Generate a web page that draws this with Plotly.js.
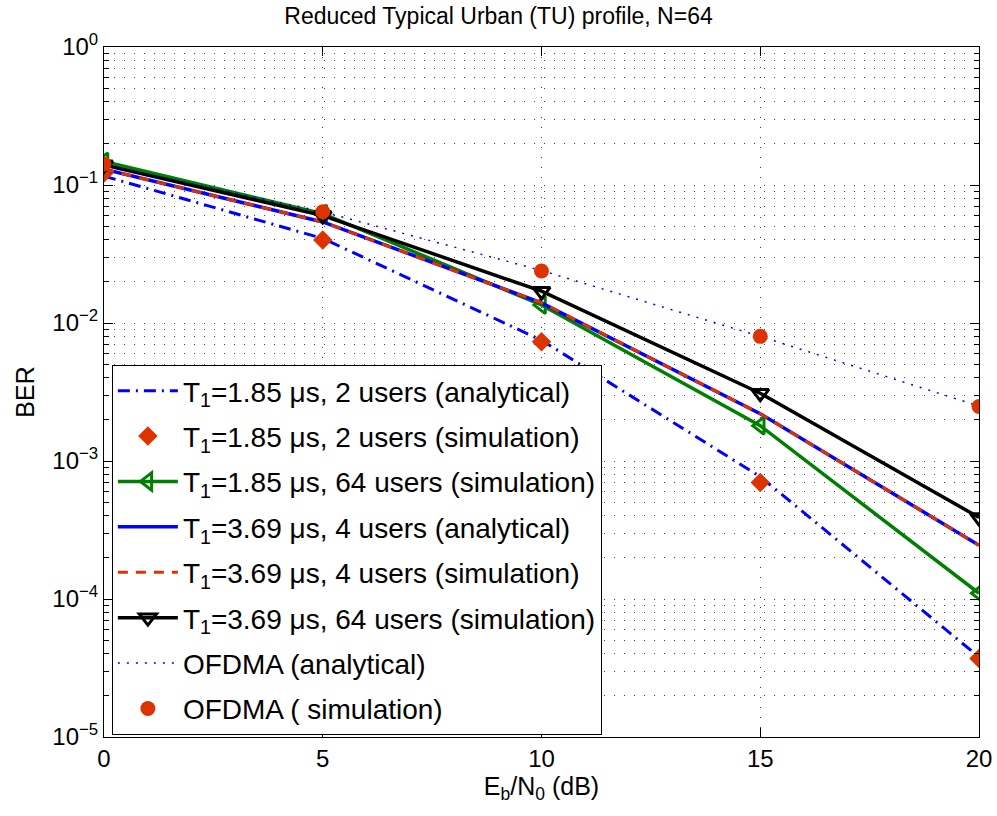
<!DOCTYPE html>
<html>
<head>
<meta charset="utf-8">
<script src="https://cdn.plot.ly/plotly-3.0.1.min.js"></script>
<style>
  html, body { margin: 0; padding: 0; background: #fff; }
  #chart { width: 997px; height: 816px; }
</style>
</head>
<body>
<div id="chart"></div>
<script>
// Eb/N0 sweep (dB)
const ebn0 = [0, 5, 10, 15, 20];

// BER curves
const t185_2u_analytical = [0.116, 0.041, 0.0075, 0.00077, 3.8e-5];
const t185_2u_simulation = [0.122, 0.040, 0.0073, 0.00070, 3.7e-5];
const t185_64u_simulation = [0.148, 0.062, 0.0135, 0.0018, 1.1e-4];
const t369_4u_analytical = [0.13, 0.054, 0.014, 0.0022, 2.45e-4];
const t369_4u_simulation = [0.13, 0.054, 0.014, 0.0022, 2.45e-4];
const t369_64u_simulation = [0.14, 0.060, 0.017, 0.0031, 3.9e-4];
const ofdma_analytical = [0.14, 0.064, 0.024, 0.0080, 0.0025];
const ofdma_simulation = [0.142, 0.064, 0.0238, 0.0080, 0.00248];

// Axis ticks
const xTicks = [0, 5, 10, 15, 20];
const yTickVals = [1, 1e-1, 1e-2, 1e-3, 1e-4, 1e-5];
const yTickText = ['10<sup>0</sup>', '10<sup>−1</sup>', '10<sup>−2</sup>', '10<sup>−3</sup>', '10<sup>−4</sup>', '10<sup>−5</sup>'];
const legendNames = [
  'T<sub>1</sub>=1.85 μs, 2 users (analytical)',
  'T<sub>1</sub>=1.85 μs, 2 users (simulation)',
  'T<sub>1</sub>=1.85 μs, 64 users (simulation)',
  'T<sub>1</sub>=3.69 μs, 4 users (analytical)',
  'T<sub>1</sub>=3.69 μs, 4 users (simulation)',
  'T<sub>1</sub>=3.69 μs, 64 users (simulation)',
  'OFDMA (analytical)',
  'OFDMA ( simulation)'
];

// minor grid positions: 2..9 within every decade
const yMinor = [];
for (let e = -5; e < 0; e++) {
  for (let m = 2; m <= 9; m++) yMinor.push(m * Math.pow(10, e));
}

const RED = '#dd3300';
const BLUE = '#0000ff';
const GREEN = '#008000';

const traces = [
  { x: ebn0, y: t185_2u_analytical, name: legendNames[0], mode: 'lines',
    line: { color: BLUE, width: 3, dash: '12px,6px,2px,6px' } },
  { x: ebn0, y: t185_2u_simulation, name: legendNames[1], mode: 'markers',
    marker: { symbol: 'diamond', color: RED, size: 15 } },
  { x: ebn0, y: t185_64u_simulation, name: legendNames[2], mode: 'lines+markers',
    line: { color: GREEN, width: 3.5 },
    marker: { symbol: 'triangle-left-open', color: GREEN, size: 15, line: { width: 3, color: GREEN } } },
  { x: ebn0, y: t369_4u_analytical, name: legendNames[3], mode: 'lines',
    line: { color: BLUE, width: 3.5 } },
  { x: ebn0, y: t369_4u_simulation, name: legendNames[4], mode: 'lines',
    line: { color: RED, width: 3, dash: '10px,8px' } },
  { x: ebn0, y: t369_64u_simulation, name: legendNames[5], mode: 'lines+markers',
    line: { color: '#000', width: 3.5 },
    marker: { symbol: 'triangle-down-open', color: '#000', size: 15, line: { width: 3, color: '#000' } } },
  { x: ebn0, y: ofdma_analytical, name: legendNames[6], mode: 'lines',
    line: { color: BLUE, width: 1.5, dash: '2px,7px' } },
  { x: ebn0, y: ofdma_simulation, name: legendNames[7], mode: 'markers',
    marker: { symbol: 'circle', color: RED, size: 15 } }
];
traces.forEach((t, i) => { t.type = 'scatter'; t.legendgroup = 'g' + i; });

const gridDash = '1px,9px';
const gridColor = '#444';
const layout = {
  width: 997, height: 816,
  margin: { l: 104, r: 18, t: 47, b: 79, pad: 0 },
  paper_bgcolor: '#fff', plot_bgcolor: '#fff',
  font: { family: 'Liberation Sans, Arial, sans-serif', color: '#000' },
  title: { text: 'Reduced Typical Urban (TU) profile, N=64', font: { size: 23, color: '#000' },
           x: 0.5, xref: 'container', y: 0.98, yref: 'container', yanchor: 'middle' },
  xaxis: {
    range: [0, 20], tickmode: 'array', tickvals: xTicks,
    ticks: 'inside', ticklen: 9, tickcolor: '#000', tickwidth: 1,
    showline: true, linecolor: '#000', linewidth: 1, mirror: 'ticks',
    showgrid: true, gridcolor: gridColor, gridwidth: 1, griddash: gridDash,
    zeroline: false, tickfont: { size: 24 },
    title: { text: 'E<sub>b</sub>/N<sub>0</sub> (dB)', font: { size: 25 }, standoff: 1 }
  },
  yaxis: {
    type: 'log', range: [-5, 0], tickmode: 'array', tickvals: yTickVals, ticktext: yTickText,
    ticks: 'inside', ticklen: 9, tickcolor: '#000', tickwidth: 1,
    showline: true, linecolor: '#000', linewidth: 1, mirror: 'ticks',
    showgrid: true, gridcolor: gridColor, gridwidth: 1, griddash: gridDash,
    zeroline: false, tickfont: { size: 24 },
    minor: { tickmode: 'array', tickvals: yMinor, ticks: 'inside', ticklen: 5, tickcolor: '#000',
             showgrid: true, gridcolor: gridColor, gridwidth: 1, griddash: gridDash },
    title: { text: 'BER', font: { size: 25 }, standoff: 10 }
  },
  showlegend: true,
  legend: {
    x: 0.009, y: 0.003, xanchor: 'left', yanchor: 'bottom',
    bgcolor: '#fff', bordercolor: '#000', borderwidth: 1,
    font: { size: 28, color: '#000' }, traceorder: 'grouped', tracegroupgap: 6,
    itemwidth: 60
  }
};

Plotly.newPlot('chart', traces, layout, { displayModeBar: false, staticPlot: true });
</script>
</body>
</html>
